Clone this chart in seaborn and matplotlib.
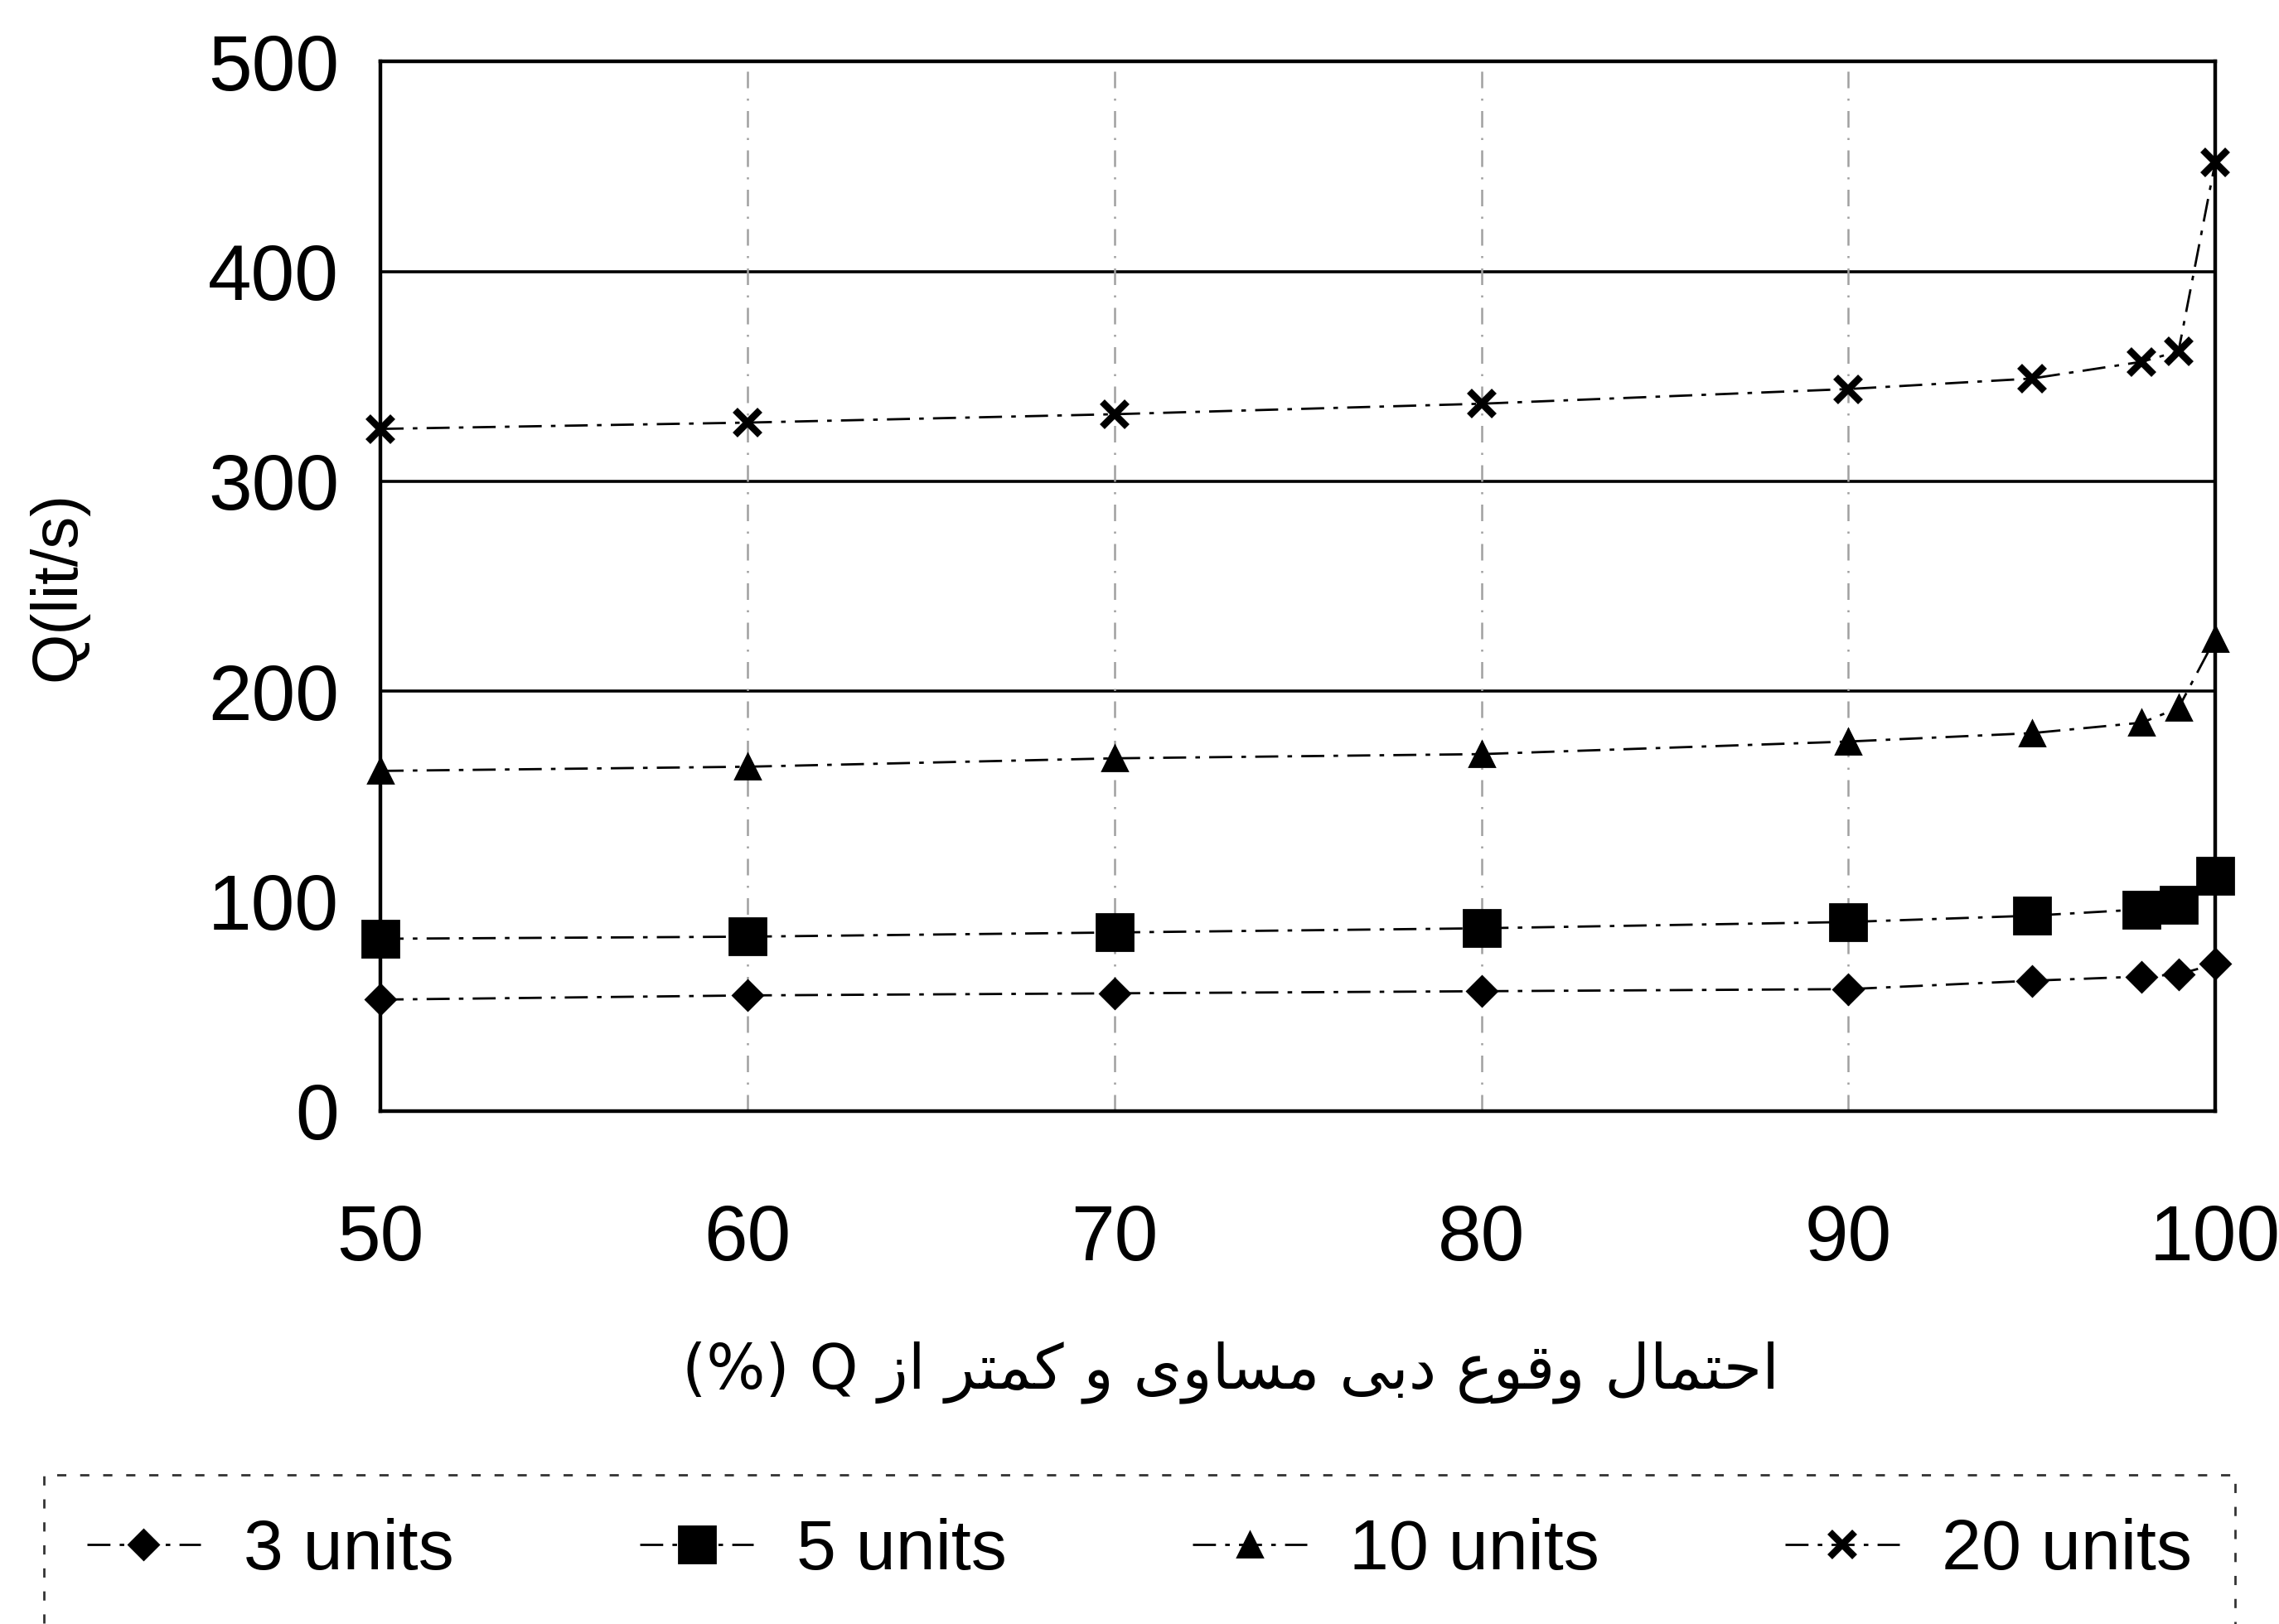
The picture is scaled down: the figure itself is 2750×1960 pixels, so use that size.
import numpy as np
import pandas as pd
import matplotlib
matplotlib.use('Agg')
import matplotlib.pyplot as plt
import seaborn as sns

# داده‌ها (خوانده شده از نمودار)
prob = [50, 60, 70, 80, 90, 95, 98, 99, 100]
q_3units = [53, 55, 56, 57, 58, 62, 64, 65, 70]
q_5units = [82, 83, 85, 87, 90, 93, 96, 98, 112]
q_10units = [162, 164, 168, 170, 176, 180, 185, 192, 225]
q_20units = [325, 328, 332, 337, 344, 349, 357, 362, 452]
series_names = ['3 units', '5 units', '10 units', '20 units']
y_ticks = [0, 100, 200, 300, 400, 500]
x_ticks = [50, 60, 70, 80, 90, 100]
grid_y = [200, 300, 400]
grid_x = [60, 70, 80, 90]

xlabel_fa = 'احتمال وقوع دبی مساوی و کمتر از Q (%)'
ylabel = 'Q(lit/s)'

# شکل‌دهی ساده حروف فارسی (matplotlib اتصال حروف را انجام نمی‌دهد)
FORMS = {
    'ا': ('\uFE8D', '\uFE8E', None, None),
    'ب': ('\uFE8F', '\uFE90', '\uFE91', '\uFE92'),
    'ت': ('\uFE95', '\uFE96', '\uFE97', '\uFE98'),
    'ح': ('\uFEA1', '\uFEA2', '\uFEA3', '\uFEA4'),
    'د': ('\uFEA9', '\uFEAA', None, None),
    'ر': ('\uFEAD', '\uFEAE', None, None),
    'ز': ('\uFEAF', '\uFEB0', None, None),
    'س': ('\uFEB1', '\uFEB2', '\uFEB3', '\uFEB4'),
    'ع': ('\uFEC9', '\uFECA', '\uFECB', '\uFECC'),
    'ق': ('\uFED5', '\uFED6', '\uFED7', '\uFED8'),
    'ک': ('\uFB8E', '\uFB8F', '\uFB90', '\uFB91'),
    'ل': ('\uFEDD', '\uFEDE', '\uFEDF', '\uFEE0'),
    'م': ('\uFEE1', '\uFEE2', '\uFEE3', '\uFEE4'),
    'و': ('\uFEED', '\uFEEE', None, None),
    'ی': ('\uFBFC', '\uFBFD', '\uFBFE', '\uFBFF'),
}


def shape_word(w):
    if not all(ch in FORMS for ch in w):
        return w
    out = []
    for i, ch in enumerate(w):
        iso, fin, ini, med = FORMS[ch]
        prev_joins = i > 0 and FORMS[w[i - 1]][2] is not None
        next_joins = ini is not None and i < len(w) - 1
        if prev_joins and next_joins:
            out.append(med)
        elif prev_joins:
            out.append(fin)
        elif next_joins:
            out.append(ini)
        else:
            out.append(iso)
    return ''.join(reversed(out))


def rtl(text):
    return ' '.join(shape_word(t) for t in reversed(text.split(' ')))


sns.set_style('white')
plt.rcParams['font.family'] = ['Liberation Sans', 'DejaVu Sans']
plt.rcParams['text.color'] = 'black'
plt.rcParams['axes.labelcolor'] = 'black'
plt.rcParams['xtick.color'] = 'black'
plt.rcParams['ytick.color'] = 'black'

df = pd.DataFrame({
    'prob': prob * 4,
    'Q': q_3units + q_5units + q_10units + q_20units,
    'series': np.repeat(series_names, len(prob)),
})

fig = plt.figure(figsize=(13.75, 9.8), dpi=200)
ax = fig.add_axes([0.167, 0.316, 0.805, 0.646])

for y in grid_y:
    ax.axhline(y, color='black', lw=1.3, zorder=1)
for x in grid_x:
    ax.axvline(x, color='#a0a0a0', lw=0.9, ls=(0, (8, 5, 1, 5)), zorder=1)

styles = {
    '3 units': dict(marker='D', markersize=9),
    '5 units': dict(marker='s', markersize=16),
    '10 units': dict(marker='^', markersize=11),
    '20 units': dict(marker='x', markersize=11, markeredgewidth=3),
}
for name in series_names:
    sub = df[df['series'] == name]
    kw = dict(markeredgecolor='black', markerfacecolor='black', markeredgewidth=1)
    kw.update(styles[name])
    sns.lineplot(data=sub, x='prob', y='Q', ax=ax, color='black',
                 linestyle=(0, (10, 4, 2, 4)), linewidth=1.0,
                 label=name, clip_on=False, zorder=3, **kw)

ax.set_xlim(50, 100)
ax.set_ylim(0, 500)
ax.set_xticks(x_ticks)
ax.set_yticks(y_ticks)
ax.tick_params(axis='both', length=0, labelsize=34)
ax.tick_params(axis='x', pad=40)
ax.tick_params(axis='y', pad=18)
for s in ax.spines.values():
    s.set_color('black')
    s.set_linewidth(1.6)

ax.set_xlabel('')
ax.set_ylabel(ylabel, fontsize=28, labelpad=52)
fig.text(0.54, 0.155, rtl(xlabel_fa), ha='center', va='center', fontsize=27,
         family=['DejaVu Sans', 'Liberation Sans'])

leg = ax.legend(loc='center', bbox_to_anchor=(0.5, 0.045), bbox_transform=fig.transFigure,
                ncol=4, fontsize=31, frameon=True, fancybox=False, handlelength=1.6,
                handletextpad=0.6, columnspacing=2.6, borderpad=0.6, edgecolor='black')
leg.get_frame().set_linestyle((0, (4, 6)))
leg.get_frame().set_linewidth(1.0)

fig.savefig('out.png', dpi=200, facecolor='white')
